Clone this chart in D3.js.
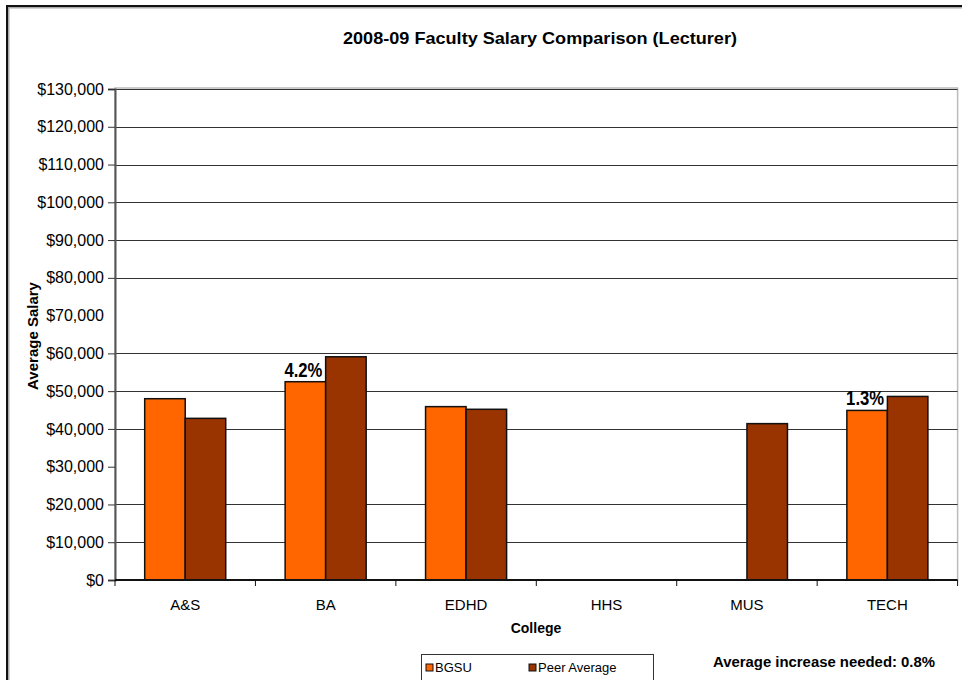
<!DOCTYPE html>
<html>
<head>
<meta charset="utf-8">
<script src="https://cdn.jsdelivr.net/npm/d3@7"></script>
<style>
  html, body { margin: 0; padding: 0; background: #fff; }
  svg { display: block; }
  text { font-family: "Liberation Sans", Arial, sans-serif; fill: #000; }
</style>
</head>
<body>
<svg id="chart" width="962" height="680"></svg>
<script>
// ---- data ----
const categories = ["A&S", "BA", "EDHD", "HHS", "MUS", "TECH"];
const seriesNames = ["BGSU", "Peer Average"];
const bgsuValues = [48000, 52500, 45900, null, null, 44900];
const peerValues = [42800, 59100, 45200, null, 41400, 48600];
const gapLabels = [null, "4.2%", null, null, null, "1.3%"];
const yTickValues = [0, 10000, 20000, 30000, 40000, 50000, 60000, 70000, 80000, 90000, 100000, 110000, 120000, 130000];
const gridValues = [10000, 20000, 40000, 50000, 60000, 80000, 90000, 100000, 110000, 120000, 130000];
const title = "2008-09 Faculty Salary Comparison (Lecturer)";
const xTitle = "College";
const yTitle = "Average Salary";
const note = "Average increase needed:  0.8%";
const colors = ["#FF6600", "#993300"];

// ---- layout ----
const svg = d3.select("#chart");
const plot = { left: 115, right: 957.6, top: 89, bottom: 580 };

const x = d3.scaleBand().domain(categories).range([plot.left, plot.right]).paddingInner(0).paddingOuter(0);
const xs = d3.scaleBand().domain(seriesNames).range([0, x.bandwidth()]).paddingInner(0).paddingOuter(0.733);
const y = d3.scaleLinear().domain([0, 130000]).range([plot.bottom, plot.top]);

// outer frame
svg.append("path").attr("d", "M962,7 L8,7 L8,680").attr("fill", "none").attr("stroke", "#aaa").attr("stroke-width", 3);
svg.append("path").attr("d", "M962,6 L7,6 L7,680").attr("fill", "none").attr("stroke", "#111").attr("stroke-width", 2);

// plot area border
svg.append("rect").attr("x", plot.left).attr("y", plot.top - 1).attr("width", plot.right - plot.left).attr("height", plot.bottom - plot.top + 1)
  .attr("fill", "none").attr("stroke", "#bbb").attr("stroke-width", 1.5);

// gridlines
svg.append("g").selectAll("line").data(gridValues).join("line")
  .attr("x1", plot.left).attr("x2", plot.right)
  .attr("y1", d => Math.round(y(d)) + 0.5).attr("y2", d => Math.round(y(d)) + 0.5)
  .attr("stroke", "#333").attr("stroke-width", 1);

// y axis
const yAxis = svg.append("g").attr("transform", `translate(${plot.left},0)`)
  .call(d3.axisLeft(y).tickValues(yTickValues).tickSize(7).tickPadding(4).tickFormat(d => "$" + d3.format(",")(d)));
yAxis.select(".domain").attr("stroke", "#555").attr("stroke-width", 2);
yAxis.selectAll(".tick line").attr("stroke", "#333");
yAxis.selectAll(".tick").filter(d => d === 70000).select("line").remove();
yAxis.selectAll(".tick text").style("font-family", "'Liberation Sans', Arial, sans-serif").style("font-size", "16px").attr("fill", "#000");

// bars
const rows = categories.map((c, i) => ({ c, vals: [bgsuValues[i], peerValues[i]], label: gapLabels[i] }));
const groups = svg.append("g").selectAll("g").data(rows).join("g").attr("transform", d => `translate(${x(d.c)},0)`);
groups.selectAll("rect").data(d => d.vals.map((v, k) => ({ v, k })).filter(e => e.v != null)).join("rect")
  .attr("x", e => xs(seriesNames[e.k]))
  .attr("y", e => y(e.v))
  .attr("width", xs.bandwidth())
  .attr("height", e => y(0) - y(e.v))
  .attr("fill", e => colors[e.k])
  .attr("stroke", "#111").attr("stroke-width", 1.5);

// gap labels
groups.filter(d => d.label).append("text")
  .attr("x", d => xs(seriesNames[0]) + xs.bandwidth() / 2 - 2)
  .attr("y", d => y(d.vals[0]) - 5)
  .attr("text-anchor", "middle")
  .attr("textLength", 38).attr("lengthAdjust", "spacingAndGlyphs")
  .style("font-family", "'Liberation Sans Narrow', 'Arial Narrow', 'Liberation Sans', sans-serif")
  .style("font-weight", "bold").style("font-size", "20px")
  .text(d => d.label);

// x axis
svg.append("line").attr("x1", plot.left).attr("x2", plot.right).attr("y1", plot.bottom).attr("y2", plot.bottom)
  .attr("stroke", "#111").attr("stroke-width", 2);
const boundaries = categories.map(c => x(c)).concat([x(categories[categories.length - 1]) + x.bandwidth()]);
svg.append("g").selectAll("line").data(boundaries).join("line")
  .attr("x1", d => d).attr("x2", d => d).attr("y1", plot.bottom).attr("y2", plot.bottom + 6)
  .attr("stroke", "#111").attr("stroke-width", 1);
svg.append("g").selectAll("text").data(categories).join("text")
  .attr("x", d => x(d) + x.bandwidth() / 2).attr("y", 610)
  .attr("text-anchor", "middle").style("font-size", "15px")
  .text(d => d);

// titles
svg.append("text").attr("x", 540).attr("y", 44).attr("text-anchor", "middle")
  .attr("textLength", 394).attr("lengthAdjust", "spacingAndGlyphs")
  .style("font-weight", "bold").style("font-size", "17px").text(title);
svg.append("text").attr("x", 536).attr("y", 633).attr("text-anchor", "middle")
  .style("font-weight", "bold").style("font-size", "14px").text(xTitle);
svg.append("text").attr("transform", "translate(38,336) rotate(-90)").attr("text-anchor", "middle")
  .style("font-weight", "bold").style("font-size", "15px").text(yTitle);

// legend
const lg = svg.append("g");
lg.append("rect").attr("x", 421.5).attr("y", 654.5).attr("width", 232).attr("height", 40)
  .attr("fill", "#fff").attr("stroke", "#333").attr("stroke-width", 1);
const legendX = [426, 529];
seriesNames.forEach((s, k) => {
  lg.append("rect").attr("x", legendX[k]).attr("y", 664).attr("width", 7).attr("height", 7)
    .attr("fill", colors[k]).attr("stroke", "#111").attr("stroke-width", 1);
  lg.append("text").attr("x", legendX[k] + 9).attr("y", 672).style("font-size", "13px").text(s);
});

// note
svg.append("text").attr("x", 713).attr("y", 667)
  .attr("textLength", 222).attr("lengthAdjust", "spacingAndGlyphs")
  .style("font-weight", "bold").style("font-size", "14px").text(note);
</script>
</body>
</html>
